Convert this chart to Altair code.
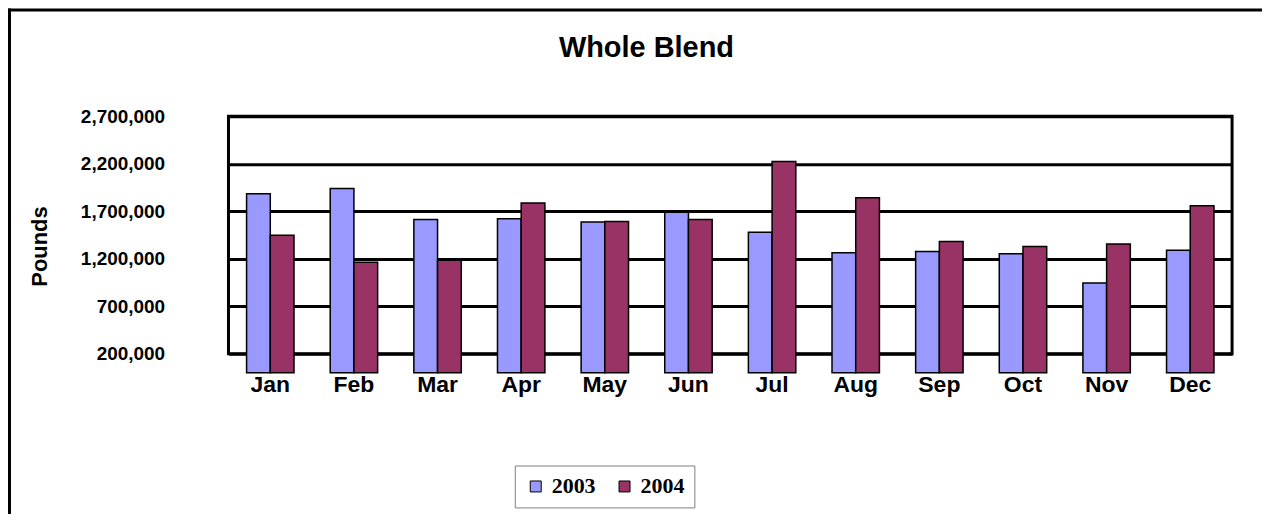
import altair as alt
import pandas as pd

months = ["Jan", "Feb", "Mar", "Apr", "May", "Jun", "Jul", "Aug", "Sep", "Oct", "Nov", "Dec"]
years = ["2003", "2004"]
pounds_2003 = [1885000, 1941000, 1613000, 1623000, 1588000, 1690000,
               1480000, 1263000, 1277000, 1252000, 944000, 1291000]
pounds_2004 = [1449000, 1165000, 1186000, 1787000, 1592000, 1613000,
               2224000, 1843000, 1381000, 1329000, 1357000, 1759000]
y_ticks = [200000, 700000, 1200000, 1700000, 2200000, 2700000]
colors = ["#9999FF", "#993366"]

rows = []
for m, a, b in zip(months, pounds_2003, pounds_2004):
    rows.append({"month": m, "year": "2003", "pounds": a})
    rows.append({"month": m, "year": "2004", "pounds": b})
df = pd.DataFrame(rows)

SANS = "Liberation Sans"
SERIF = "Liberation Serif"

bars = alt.Chart(df).mark_bar(stroke="black", strokeWidth=1.5).encode(
    x=alt.X("month:N", sort=months,
            scale=alt.Scale(paddingInner=0.433, paddingOuter=0.2165),
            axis=alt.Axis(title=None, labelAngle=0, domain=False, ticks=False,
                          labelFont=SANS, labelFontWeight="bold", labelFontSize=23,
                          labelColor="black", labelPadding=20)),
    xOffset=alt.XOffset("year:N", scale=alt.Scale(domain=years, paddingInner=0, paddingOuter=0)),
    y=alt.Y("pounds:Q",
            scale=alt.Scale(domain=[200000, 2700000], nice=False, zero=False),
            axis=alt.Axis(values=y_ticks, format=",.0f", grid=True, gridColor="black",
                          gridWidth=3, gridOpacity=1, domain=False, ticks=False,
                          labelFont=SANS, labelFontWeight="bold", labelFontSize=19,
                          labelColor="black", labelPadding=64,
                          title="Pounds", titleFont=SANS, titleFontWeight="bold",
                          titleFontSize=22, titleColor="black", titleAngle=270,
                          titleX=-189, titleY=130, titleAlign="center",
                          titleBaseline="middle")),
    color=alt.Color("year:N",
                    scale=alt.Scale(domain=years, range=colors),
                    legend=alt.Legend(title=None, orient="none", legendX=287, legendY=350,
                                      direction="horizontal", symbolType="square",
                                      symbolSize=121, symbolStrokeColor="black",
                                      symbolStrokeWidth=1, symbolOpacity=1,
                                      labelFont=SERIF, labelFontWeight="bold",
                                      labelFontSize=22, labelColor="black",
                                      labelOffset=5, columnPadding=18, padding=10,
                                      strokeColor="#808080", fillColor="white")),
)

frame = pd.DataFrame({"k": [0]})
left_border = alt.Chart(frame).mark_rule(color="black", strokeWidth=3).encode(
    x=alt.value(-219.5), y=alt.value(-108), y2=alt.value(410))
top_border = alt.Chart(frame).mark_rule(color="black", strokeWidth=3).encode(
    x=alt.value(-221), x2=alt.value(1036), y=alt.value(-106.5))

chart = alt.layer(bars, left_border, top_border).properties(
    width=1006, height=238,
    title=alt.TitleParams("Whole Blend", font=SANS, fontWeight="bold", fontSize=29,
                          color="black", anchor="middle", dx=-84, offset=0, dy=79,
                          baseline="alphabetic", frame="group"),
    autosize=alt.AutoSizeParams(type="none"),
    padding={"left": 221, "top": 108, "right": 30, "bottom": 160},
    background="white",
).configure_view(stroke="black", strokeWidth=3)

chart.save("out.html", embed_options={"renderer": "svg", "actions": False})
